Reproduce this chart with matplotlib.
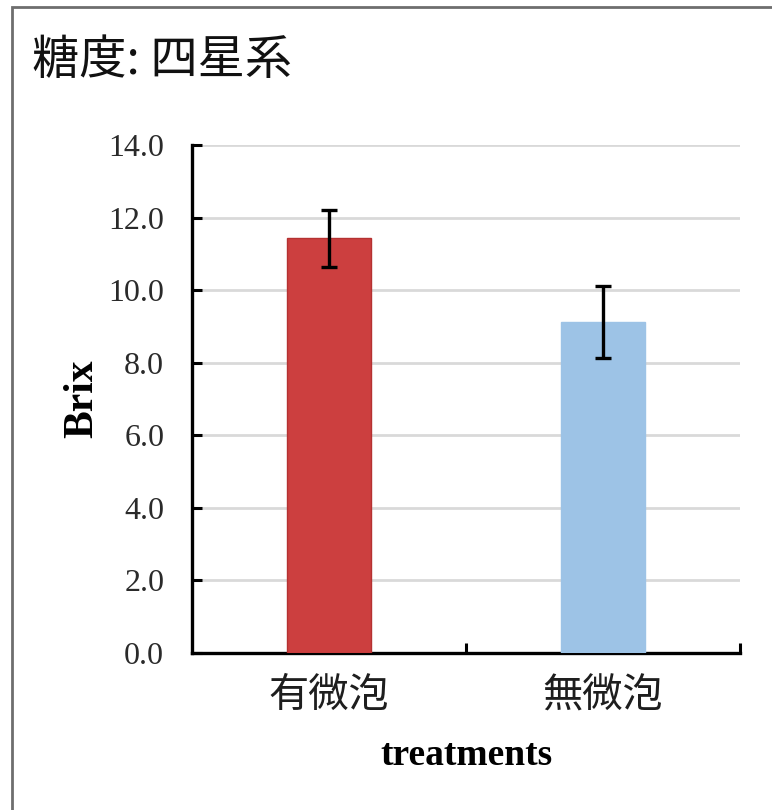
import matplotlib
matplotlib.use("Agg")
import matplotlib.pyplot as plt
from matplotlib.patches import Rectangle

# data
categories = ["有微泡", "無微泡"]
brix_mean = [11.43, 9.13]
brix_err = [0.79, 0.99]
y_ticks = [0, 2, 4, 6, 8, 10, 12, 14]
y_tick_labels = ["0.0", "2.0", "4.0", "6.0", "8.0", "10.0", "12.0", "14.0"]
title = "糖度: 四星系"
x_label = "treatments"
y_label = "Brix"

bar_colors = ["#CC3F3F", "#9DC3E6"]
edge_colors = ["#B53131", "#9DC3E6"]

cjk = ["Noto Sans CJK JP", "DejaVu Sans"]
serif = ["Liberation Serif", "DejaVu Serif"]

W, H = 772, 810
fig = plt.figure(figsize=(W / 100, H / 100), dpi=100)
fig.patch.set_facecolor("white")

# outer frame
fig.add_artist(Rectangle((12 / W, -0.05), 1.2, 1 - 7 / H + 0.05,
                         transform=fig.transFigure, fill=False,
                         edgecolor="#6E6E6E", linewidth=2.0))

ax = fig.add_axes([192 / W, 1 - 653 / H, (740 - 192) / W, (653 - 145) / H])
x = list(range(len(categories)))
ax.bar(x, brix_mean, width=0.31, color=bar_colors, edgecolor=edge_colors,
       linewidth=1.0, zorder=3)
ax.errorbar(x, brix_mean, yerr=brix_err, fmt="none", ecolor="black",
            elinewidth=2.4, capsize=5.5, capthick=2.4, zorder=4)

ax.set_xlim(-0.5, 1.5)
ax.set_ylim(0, 14)
ax.set_yticks(y_ticks)
ax.set_yticklabels(y_tick_labels, fontfamily=serif, fontsize=23, color="#2A2A2A")
ax.set_xticks(x)
ax.set_xticklabels(categories, fontfamily=cjk, fontsize=29, color="#1E1E1E")
ax.set_xticks([0.5, 1.5], minor=True)

ax.tick_params(axis="y", direction="in", length=7, width=2.2, pad=20, color="black")
ax.tick_params(axis="x", which="major", length=0, pad=16)
ax.tick_params(axis="x", which="minor", direction="in", length=7, width=2.2)

ax.grid(axis="y", color="#D9D9D9", linewidth=2.0, zorder=0)
ax.set_axisbelow(True)

for s in ["top", "right"]:
    ax.spines[s].set_visible(False)
for s in ["left", "bottom"]:
    ax.spines[s].set_linewidth(2.4)
    ax.spines[s].set_color("black")

ax.set_xlabel(x_label, fontfamily=serif, fontweight="bold", fontsize=27, labelpad=16)
ax.set_ylabel(y_label, fontfamily=serif, fontweight="bold", fontsize=30, labelpad=5)

fig.text(32 / W, 1 - 61 / H, title, fontfamily=cjk, fontsize=34,
         ha="left", va="center", color="#111111")

fig.savefig("out.png", dpi=100)
